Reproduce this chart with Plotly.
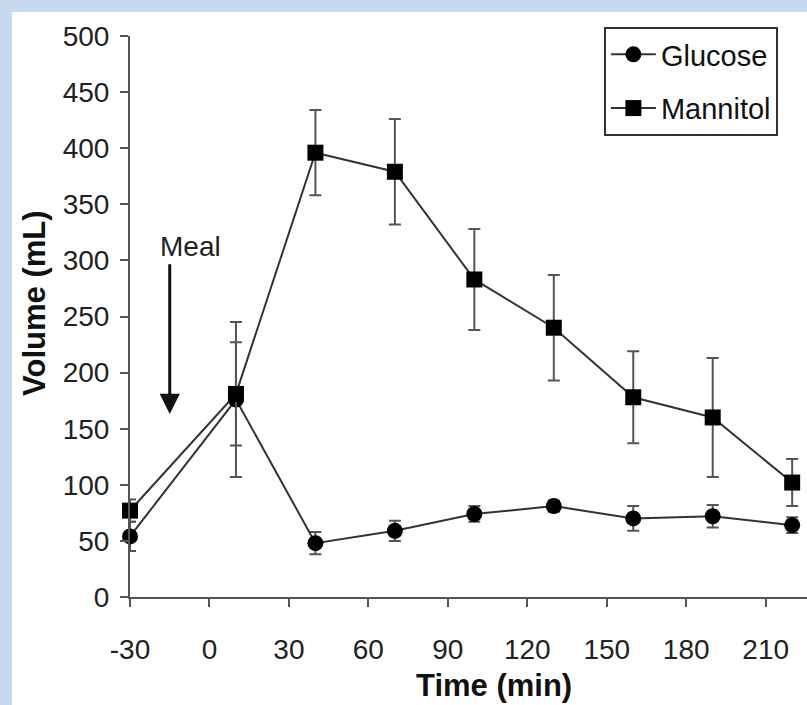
import plotly.graph_objects as go

# Sampling times (min) relative to the meal
time_min = [-30, 10, 40, 70, 100, 130, 160, 190, 220]

# Gastric volume (mL), mean and error
glucose = [54, 176, 48, 59, 74, 81, 70, 72, 64]
glucose_err = [13, 69, 10, 9, 7, 5, 11, 10, 7]
mannitol = [77, 181, 396, 379, 283, 240, 178, 160, 102]
mannitol_err = [10, 46, 38, 47, 45, 47, 41, 53, 21]

# Axis ticks
x_ticks = [-30, 0, 30, 60, 90, 120, 150, 180, 210]
x_tick_text = ["-30", "0", "30", "60", "90", "120", "150", "180", "210"]
y_ticks = [0, 50, 100, 150, 200, 250, 300, 350, 400, 450, 500]

FONT = "Liberation Sans, Arial, sans-serif"
LINE = "#333333"
ERR = "#555555"

fig = go.Figure()

fig.add_trace(go.Scatter(
    x=time_min, y=glucose, name="Glucose", mode="lines+markers",
    line=dict(color=LINE, width=2),
    marker=dict(symbol="circle", size=16, color="#000000"),
    error_y=dict(type="data", array=glucose_err, visible=True,
                 color=ERR, thickness=2, width=6),
    cliponaxis=False, legendgroup="g",
))
fig.add_trace(go.Scatter(
    x=time_min, y=mannitol, name="Mannitol", mode="lines+markers",
    line=dict(color=LINE, width=2),
    marker=dict(symbol="square", size=16, color="#000000"),
    error_y=dict(type="data", array=mannitol_err, visible=True,
                 color=ERR, thickness=2, width=6),
    cliponaxis=False, legendgroup="m",
))

# Meal arrow and label
fig.add_annotation(
    x=-15, y=163, ax=-15, ay=298, xref="x", yref="y", axref="x", ayref="y",
    text="", showarrow=True, arrowhead=2, arrowsize=1.35, arrowwidth=3,
    arrowcolor="#111111",
)
fig.add_annotation(
    x=-7, y=312, xref="x", yref="y", text="Meal", showarrow=False,
    font=dict(family=FONT, size=28, color="#222222"),
)

# Axis titles
fig.add_annotation(
    x=107.5, y=-0.157, xref="x", yref="paper", text="<b>Time (min)</b>",
    showarrow=False, font=dict(family=FONT, size=31, color="#111111"),
    yanchor="middle",
)
fig.add_annotation(
    x=-0.142, y=0.524, xref="paper", yref="paper", text="<b>Volume (mL)</b>",
    textangle=-90, showarrow=False,
    font=dict(family=FONT, size=31, color="#111111"),
    xanchor="center", yanchor="middle",
)

# White page inset within the light blue frame
fig.add_shape(
    type="rect", xref="paper", yref="paper",
    x0=(12 - 130) / 677, x1=1.2, y0=-0.4, y1=(597.3 - 12) / 561.3,
    fillcolor="#ffffff", line=dict(width=0), layer="below",
)

fig.update_layout(
    width=807, height=705,
    margin=dict(l=130, r=0, t=36, b=108),
    paper_bgcolor="#c6d9f0", plot_bgcolor="#ffffff",
    font=dict(family=FONT, size=28, color="#222222"),
    showlegend=True,
    legend=dict(
        x=0.700, y=1.016, xanchor="left", yanchor="top",
        bgcolor="#ffffff", bordercolor="#333333", borderwidth=2,
        font=dict(family=FONT, size=29, color="#111111"),
        tracegroupgap=13, traceorder="grouped", itemwidth=45,
    ),
    xaxis=dict(
        range=[-30, 225.6], tickmode="array", tickvals=x_ticks,
        ticktext=x_tick_text,
        showline=True, linecolor="#555555", linewidth=2,
        ticks="outside", ticklen=8, tickwidth=2, tickcolor="#555555",
        showgrid=False, zeroline=False, ticklabelstandoff=18,
    ),
    yaxis=dict(
        range=[0, 500], tickmode="array", tickvals=y_ticks,
        showline=True, linecolor="#555555", linewidth=2,
        ticks="outside", ticklen=8, tickwidth=2, tickcolor="#555555",
        showgrid=False, zeroline=False, ticklabelstandoff=5,
    ),
)

fig.write_html("out.html")
